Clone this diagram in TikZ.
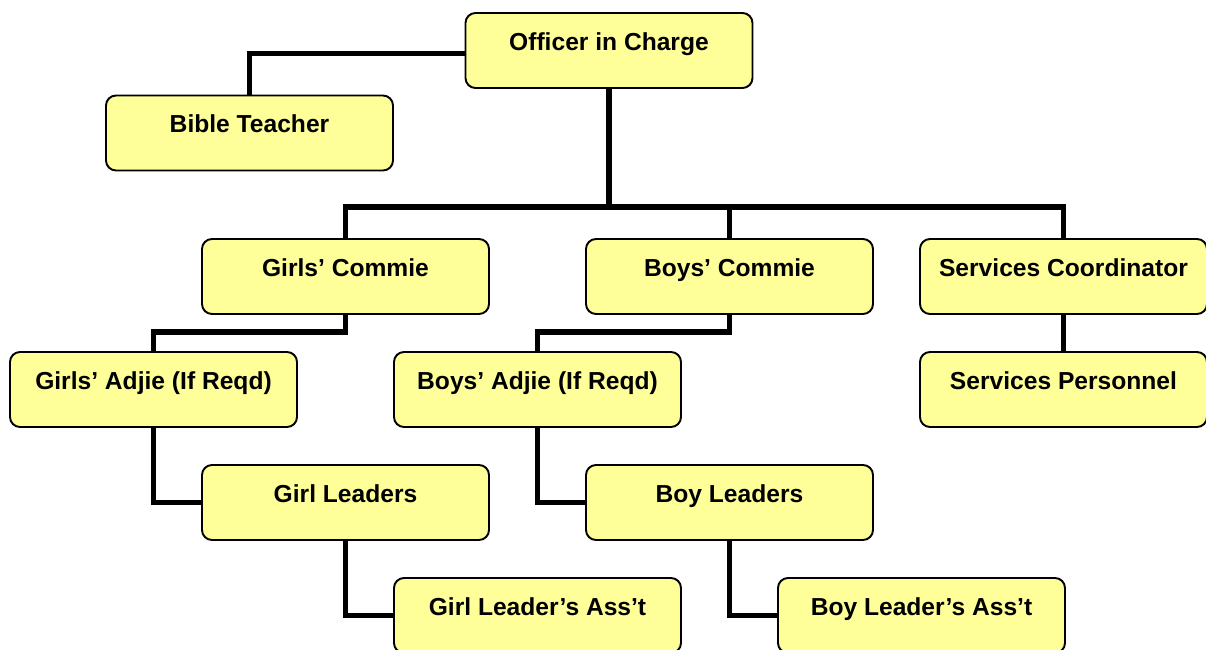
\documentclass[tikz,border=0pt]{standalone}
\usepackage{fontspec}
\setmainfont{Liberation Sans}
\usepackage{tikz}
\usetikzlibrary{positioning}

\definecolor{postyellow}{HTML}{FFFF99}

\begin{document}
\begin{tikzpicture}[%
    on grid, node distance=2.26cm and 3.84cm,
    font=\bfseries\fontsize{14}{17}\selectfont,
postbox/.style={draw, fill=postyellow, line width=1.1pt, rounded corners=0.2cm,
    inner sep=0, minimum width=5.74cm, text height=0.74cm, text depth=0.76cm},
link/.style={line width=2.9pt}
  ]
    \useasboundingbox (0,0) rectangle (24.12,-12.98);

    \node[postbox] (1) at (12.18,-1.01) {Officer in Charge};

    \node[postbox] (2) [below left=1.65cm and 7.19cm of 1] {Bible Teacher};

    \node[postbox] (3) [below left=4.52cm and 5.27cm of 1] {Girls' Commie};

    \node[postbox] (4) [right=7.68cm of 3] {Boys' Commie};

    \node[postbox] (5) [right=6.68cm of 4] {Services Coordinator};

    \node[postbox] (6) [below left=of 3] {Girls' Adjie (If Reqd)};

    \node[postbox] (7) [below left=of 4] {Boys' Adjie (If Reqd)};

    \node[postbox] (8) [below=of 5] {Services Personnel};

    \node[postbox] (9) [below right=of 6] {Girl Leaders};

    \node[postbox] (10) [below right=of 7] {Boy Leaders};

    \node[postbox] (11) [below right=of 9] {Girl Leader's Ass't};

    \node[postbox] (12) [below right=of 10] {Boy Leader's Ass't};

    \coordinate (bus) at (12.18,-4.14);

          \draw[link] ([yshift=-0.06cm]1.west) -| (2.north);
          \draw[link] (1.south) -- (bus);
          \draw[link] (bus) -| (3.north);
          \draw[link] (bus) -| (4.north);
          \draw[link] (bus) -| (5.north);
          \draw[link] (3.south) -- ++(0,-0.34) -| (6.north);
          \draw[link] (4.south) -- ++(0,-0.34) -| (7.north);
          \draw[link] (5.south) -- (8.north);
          \draw[link] (6.south) |- (9.west);
          \draw[link] (7.south) |- (10.west);
          \draw[link] (9.south) |- (11.west);
          \draw[link] (10.south) |- (12.west);
  \end{tikzpicture}
\end{document}
